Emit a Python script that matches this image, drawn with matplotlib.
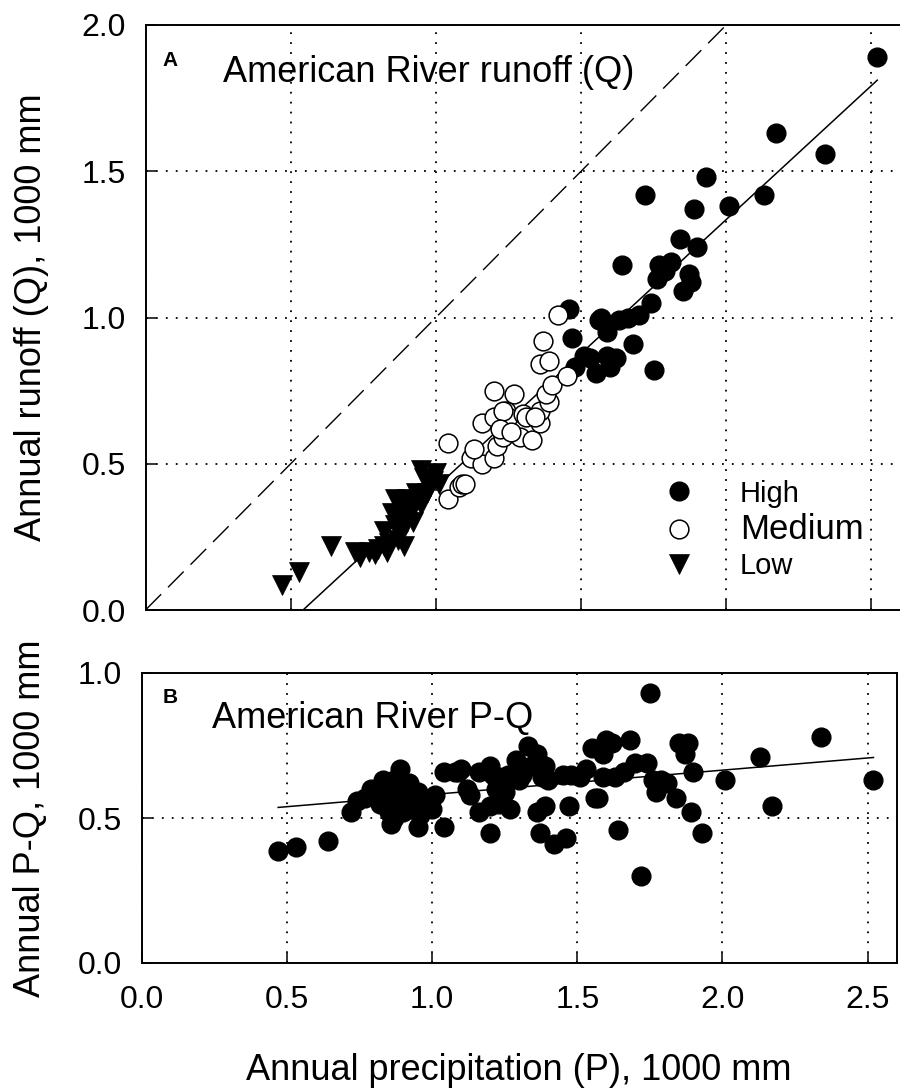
import numpy as np
import matplotlib
matplotlib.use("Agg")
import matplotlib.pyplot as plt

plt.rcParams['font.family'] = ['Liberation Sans', 'DejaVu Sans']

# annual precipitation P and runoff Q (1000 mm), grouped as in the legend
P_high = [2.52, 2.17, 2.34, 1.93, 1.72, 2.13, 2.01, 1.89, 1.84, 1.90,
          1.88, 1.85, 1.64, 1.77, 1.81, 1.79, 1.76, 1.87, 1.46, 1.74,
          1.70, 1.75, 1.68, 1.62, 1.60, 1.55, 1.63, 1.57, 1.56, 1.51,
          1.48, 1.47, 1.59, 1.59, 1.53, 1.66]
Q_high = [1.89, 1.63, 1.56, 1.48, 1.42, 1.42, 1.38, 1.37, 1.27, 1.24,
          1.12, 1.09, 1.18, 1.18, 1.19, 1.16, 1.13, 1.15, 1.03, 1.05,
          1.01, 0.82, 0.91, 0.86, 0.83, 0.81, 0.99, 1.00, 0.99, 0.87,
          0.83, 0.93, 0.95, 0.87, 0.86, 1.00]

P_med = [1.04, 1.04, 1.08, 1.09, 1.12, 1.16, 1.20, 1.21, 1.23, 1.16,
         1.20, 1.24, 1.20, 1.27, 1.29, 1.25, 1.23, 1.30, 1.33, 1.36,
         1.36, 1.39, 1.38, 1.40, 1.45, 1.36, 1.39, 1.37, 1.42, 1.22,
         1.13, 1.26, 1.31, 1.34, 1.10]
Q_med = [0.57, 0.38, 0.42, 0.43, 0.52, 0.50, 0.52, 0.56, 0.59, 0.64,
         0.66, 0.68, 0.75, 0.74, 0.59, 0.66, 0.68, 0.67, 0.58, 0.64,
         0.68, 0.71, 0.74, 0.77, 0.80, 0.84, 0.85, 0.92, 1.01, 0.62,
         0.55, 0.61, 0.66, 0.66, 0.43]

P_low = [0.47, 0.53, 0.64, 0.72, 0.74, 0.77, 0.79, 0.80, 0.82, 0.83,
         0.84, 0.82, 0.85, 0.86, 0.87, 0.88, 0.89, 0.90, 0.88, 0.90,
         0.91, 0.92, 0.86, 0.87, 0.89, 0.93, 0.95, 0.96, 1.00, 0.98,
         0.94, 0.97, 0.99, 1.01, 0.92, 0.95]
Q_low = [0.085, 0.13, 0.22, 0.20, 0.18, 0.20, 0.19, 0.21, 0.22, 0.20,
         0.23, 0.27, 0.33, 0.38, 0.37, 0.32, 0.36, 0.38, 0.27, 0.30,
         0.33, 0.35, 0.29, 0.24, 0.22, 0.40, 0.48, 0.45, 0.47, 0.42,
         0.38, 0.40, 0.44, 0.43, 0.30, 0.36]

# fitted lines: slope, intercept
fit_Q = (0.916, -0.497)
fit_PQ = (0.084, 0.497)

P_all = np.array(P_high + P_med + P_low)
Q_all = np.array(Q_high + Q_med + Q_low)
PQ_all = P_all - Q_all

fig = plt.figure(figsize=(9, 10.89), dpi=100)
ax1 = fig.add_axes([145.5/900, 479/1089, 755/900, 585/1089])
ax2 = fig.add_axes([141.7/900, 126/1089, 755/900, 290/1089])

grid_kw = dict(color='black', linestyle=(0, (1, 4.5)), linewidth=1.3)
for ax in (ax1, ax2):
    ax.set_xlim(0, 2.6)
    ax.set_xticks([0.0, 0.5, 1.0, 1.5, 2.0, 2.5])
    ax.grid(True, **grid_kw)
    ax.set_axisbelow(True)
    for s in ax.spines.values():
        s.set_linewidth(1.4)
    ax.tick_params(direction='in', length=7, width=1.1, labelsize=23)
    ax.tick_params(axis='x', pad=16)
    ax.tick_params(axis='y', pad=14)

# panel A
ax1.set_ylim(0, 2.0)
ax1.set_yticks([0.0, 0.5, 1.0, 1.5, 2.0])
ax1.set_yticklabels(['0.0', '0.5', '1.0', '1.5', '2.0'])
ax1.tick_params(axis='x', labelbottom=False)
ax1.plot([0, 2.6], [0, 2.6], color='black', linewidth=1.0, dashes=(16, 7))
xf = np.array([P_all.min(), P_all.max()])
ax1.plot(xf, fit_Q[0]*xf + fit_Q[1], color='black', linewidth=1.1)
ax1.plot(P_high, Q_high, 'o', ms=13.5, mfc='black', mec='black', mew=1, label='High')
ax1.plot(P_med, Q_med, 'o', ms=13.5, mfc='white', mec='black', mew=1.1, label='Medium')
ax1.plot(P_low, Q_low, 'v', ms=14.5, mfc='black', mec='black', mew=0.5, label='Low')
ax1.set_ylabel('Annual runoff (Q), 1000 mm', fontsize=26)
ax1.yaxis.set_label_coords(-0.128, 0.5)
ax1.text(0.032, 0.94, 'A', transform=ax1.transAxes, fontsize=15, fontweight='bold',
         ha='center', va='center')
ax1.text(0.1026, 0.9026, 'American River runoff (Q)', transform=ax1.transAxes,
         fontsize=26, ha='left', va='baseline')
leg = ax1.legend(loc='center left', bbox_to_anchor=(0.687, 0.137), frameon=False,
                 fontsize=21, handlelength=1.0, handletextpad=1.6, labelspacing=0.2,
                 borderpad=0, borderaxespad=0, numpoints=1)
leg.get_texts()[1].set_fontsize(25)

# panel B
ax2.set_ylim(0, 1.0)
ax2.set_yticks([0.0, 0.5, 1.0])
ax2.set_yticklabels(['0.0', '0.5', '1.0'])
ax2.set_xticklabels(['0.0', '0.5', '1.0', '1.5', '2.0', '2.5'])
ax2.plot(xf, fit_PQ[0]*xf + fit_PQ[1], color='black', linewidth=1.1)
ax2.plot(P_all, PQ_all, 'o', ms=13.5, mfc='black', mec='black', mew=1)
ax2.set_ylabel('Annual P-Q, 1000 mm', fontsize=26)
ax2.yaxis.set_label_coords(-0.124, 0.5)
ax2.set_xlabel('Annual precipitation (P), 1000 mm', fontsize=26)
ax2.xaxis.set_label_coords(0.5, -0.31)
ax2.text(0.0375, 0.914, 'B', transform=ax2.transAxes, fontsize=15, fontweight='bold',
         ha='center', va='center')
ax2.text(0.093, 0.81, 'American River P-Q', transform=ax2.transAxes,
         fontsize=26, ha='left', va='baseline')

fig.savefig('out.png', dpi=100)
